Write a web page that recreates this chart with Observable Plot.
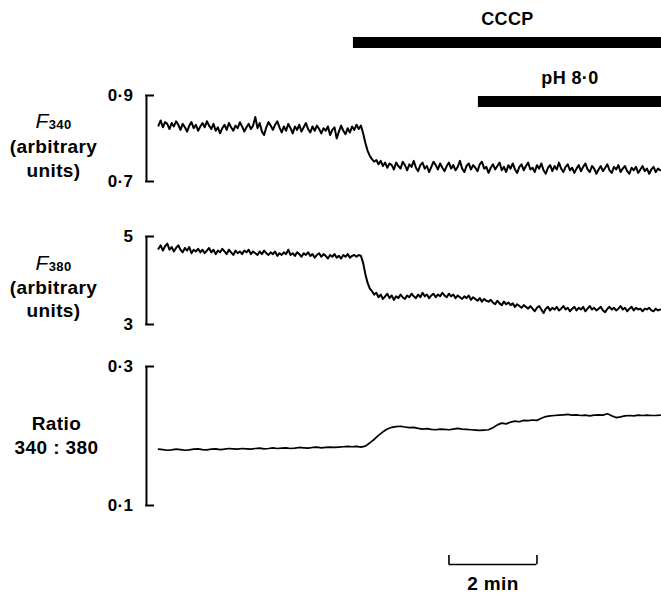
<!DOCTYPE html>
<html><head><meta charset="utf-8">
<script src="https://cdn.jsdelivr.net/npm/d3@7"></script>
<script src="https://cdn.jsdelivr.net/npm/@observablehq/plot@0.6"></script>
<style>
body{margin:0;background:#fff;}
#chart{position:relative;width:661px;height:593px;overflow:hidden;background:#fff;}
#chart svg{position:absolute;left:0;top:0;}
#chart text{letter-spacing:0.4px;}
</style></head><body><div id="chart"></div>
<script>
// sampling intervals of the traces (min)
const fluorInterval = 0.05;
const ratioInterval = 0.1;

const f340 = [
0.830,0.842,0.826,0.838,0.834,0.822,0.836,0.828,0.840,0.832,
0.820,0.834,0.826,0.816,0.830,0.838,0.824,0.832,0.818,0.828,
0.836,0.826,0.840,0.830,0.822,0.834,0.818,0.826,0.812,0.824,
0.832,0.820,0.836,0.826,0.818,0.830,0.824,0.838,0.828,0.816,
0.826,0.834,0.822,0.830,0.850,0.824,0.836,0.816,0.808,0.826,
0.838,0.830,0.820,0.832,0.840,0.826,0.814,0.828,0.818,0.834,
0.824,0.812,0.828,0.820,0.832,0.816,0.826,0.836,0.822,0.814,
0.828,0.818,0.830,0.822,0.812,0.824,0.818,0.828,0.808,0.820,
0.826,0.800,0.816,0.830,0.818,0.810,0.824,0.814,0.828,0.820,
0.832,0.822,0.830,0.812,0.790,0.772,0.760,0.752,0.746,0.750,
0.740,0.748,0.736,0.744,0.732,0.742,0.738,0.728,0.744,0.736,
0.730,0.746,0.738,0.726,0.740,0.734,0.748,0.732,0.724,0.738,
0.744,0.730,0.736,0.722,0.734,0.746,0.738,0.728,0.742,0.732,
0.724,0.736,0.744,0.730,0.738,0.726,0.734,0.748,0.730,0.722,
0.736,0.742,0.728,0.738,0.732,0.724,0.740,0.746,0.730,0.734,
0.720,0.732,0.740,0.728,0.736,0.744,0.726,0.734,0.722,0.738,
0.730,0.742,0.728,0.720,0.734,0.740,0.726,0.736,0.744,0.728,
0.732,0.722,0.738,0.730,0.742,0.726,0.718,0.732,0.738,0.724,
0.736,0.728,0.744,0.730,0.722,0.734,0.740,0.726,0.732,0.720,
0.730,0.738,0.724,0.734,0.742,0.728,0.722,0.736,0.730,0.718,
0.728,0.736,0.724,0.732,0.740,0.726,0.720,0.734,0.728,0.738,
0.722,0.730,0.736,0.724,0.718,0.732,0.726,0.734,0.720,0.728,
0.736,0.724,0.730,0.718,0.728,0.734,0.722,0.730,0.726];

const f380 = [
4.72,4.80,4.68,4.78,4.84,4.70,4.76,4.66,4.74,4.80,
4.70,4.64,4.74,4.68,4.76,4.62,4.70,4.66,4.72,4.64,
4.70,4.62,4.68,4.74,4.64,4.70,4.60,4.68,4.64,4.72,
4.66,4.60,4.70,4.64,4.58,4.68,4.62,4.66,4.60,4.68,
4.64,4.70,4.60,4.66,4.62,4.58,4.66,4.60,4.68,4.62,
4.58,4.64,4.60,4.66,4.56,4.62,4.58,4.64,4.60,4.70,
4.58,4.62,4.56,4.64,4.60,4.54,4.62,4.58,4.64,4.56,
4.60,4.52,4.58,4.62,4.54,4.60,4.56,4.50,4.58,4.54,
4.60,4.52,4.56,4.50,4.58,4.54,4.60,4.52,4.56,4.58,
4.54,4.58,4.56,4.40,4.15,3.95,3.82,3.76,3.68,3.72,
3.62,3.68,3.58,3.64,3.70,3.60,3.66,3.56,3.64,3.60,
3.68,3.62,3.58,3.66,3.62,3.70,3.64,3.60,3.68,3.62,
3.72,3.64,3.68,3.60,3.66,3.70,3.62,3.68,3.64,3.72,
3.66,3.62,3.70,3.64,3.68,3.60,3.66,3.62,3.58,3.64,
3.60,3.66,3.56,3.62,3.58,3.54,3.60,3.52,3.58,3.54,
3.52,3.56,3.50,3.46,3.54,3.48,3.44,3.52,3.46,3.50,
3.44,3.48,3.40,3.46,3.42,3.38,3.44,3.40,3.36,3.42,
3.36,3.30,3.38,3.42,3.34,3.26,3.36,3.40,3.32,3.38,
3.34,3.40,3.32,3.36,3.42,3.34,3.38,3.30,3.36,3.40,
3.32,3.38,3.34,3.40,3.30,3.36,3.42,3.34,3.38,3.32,
3.36,3.40,3.32,3.28,3.36,3.40,3.34,3.38,3.32,3.36,
3.42,3.34,3.38,3.30,3.36,3.40,3.32,3.38,3.34,3.36,
3.30,3.36,3.34,3.38,3.32,3.30,3.36,3.32,3.34];

const ratio = [
0.1810,0.1805,0.1795,0.1800,0.1810,0.1805,0.1795,0.1800,0.1810,0.1815,
0.1805,0.1800,0.1810,0.1815,0.1805,0.1810,0.1820,0.1815,0.1810,0.1820,
0.1815,0.1810,0.1820,0.1825,0.1815,0.1820,0.1830,0.1820,0.1825,0.1830,
0.1820,0.1825,0.1835,0.1830,0.1825,0.1835,0.1840,0.1830,0.1835,0.1840,
0.1835,0.1840,0.1845,0.1850,0.1845,0.1850,0.1840,0.1855,0.1900,0.1950,
0.2010,0.2060,0.2100,0.2125,0.2135,0.2140,0.2130,0.2120,0.2125,0.2110,
0.2100,0.2105,0.2095,0.2090,0.2100,0.2095,0.2090,0.2100,0.2110,0.2100,
0.2095,0.2090,0.2085,0.2080,0.2085,0.2090,0.2120,0.2160,0.2185,0.2175,
0.2200,0.2215,0.2205,0.2225,0.2220,0.2230,0.2225,0.2255,0.2280,0.2290,
0.2295,0.2300,0.2305,0.2310,0.2300,0.2305,0.2295,0.2300,0.2290,0.2300,
0.2305,0.2300,0.2320,0.2290,0.2265,0.2275,0.2290,0.2295,0.2290,0.2300,
0.2295,0.2300,0.2295,0.2295,0.2300];

const f340Ticks = [0.7, 0.9];
const f340TickLabels = ["0·7", "0·9"];
const f380Ticks = [3, 5];
const f380TickLabels = ["3", "5"];
const ratioTicks = [0.1, 0.3];
const ratioTickLabels = ["0·1", "0·3"];

const f340Title = ["F340", "(arbitrary", "units)"];
const f380Title = ["F380", "(arbitrary", "units)"];
const ratioTitle = ["Ratio", "340 : 380"];

// treatment bars (min), continuing past the right edge
const treatmentNames = ["CCCP", "pH 8·0"];
const treatmentStarts = [4.43, 7.27];
const recordEnd = 11.43;

// time scale bar (min)
const scaleBarStart = 6.6;
const scaleBarEnd = 8.6;
const scaleBarLabel = "2 min";

// ---------- layout ----------
const W = 661, H = 593;
const FONT = "'Liberation Sans', Arial, sans-serif";
const timeDomain = [-0.295, recordEnd];
const axisT = -0.273;           // time position of the vertical axis line
const tickLen = 8 / 44;          // tick length in minutes (44 px per min)
const container = document.getElementById("chart");

function basePlot(top, bottom, extra) {
  return Object.assign({
    width: W, height: H,
    marginLeft: 145, marginRight: 0,
    marginTop: top, marginBottom: H - bottom,
    x: {domain: timeDomain, axis: null},
    style: {background: "transparent", overflow: "visible", fontFamily: FONT, color: "black"}
  }, extra);
}

function panel(values, interval, ticks, tickLabels, title, top, bottom, sw, titleDy, titleDx) {
  const data = values.map((v, i) => ({t: i * interval, v}));
  const tickData = ticks.map((v, i) => ({v, label: tickLabels[i]}));
  const marks = [
    Plot.ruleX([axisT], {y1: ticks[0], y2: ticks[1], stroke: "black", strokeWidth: 2}),
    Plot.ruleY(tickData, {y: "v", x1: axisT - 0.02, x2: axisT + tickLen, stroke: "black", strokeWidth: 2}),
    Plot.text(tickData, {x: axisT, y: "v", text: "label", textAnchor: "end", dx: -13, fontSize: 17,
      fontWeight: "bold", fill: "black", lineAnchor: "middle"}),
    Plot.line(data, {x: "t", y: "v", stroke: "black", strokeWidth: sw, strokeLinejoin: "round"})
  ];
  title.forEach((line, i) => {
    marks.push(Plot.text([line], {frameAnchor: "left", text: d => d, dx: titleDx, dy: titleDy[i],
      textAnchor: "middle", lineAnchor: "bottom", fontSize: 19, fontWeight: "bold", fill: "black"}));
  });
  const svg = Plot.plot(basePlot(top, bottom, {y: {domain: ticks, axis: null}, marks}));
  // subscript styling for F340 / F380
  d3.select(svg).selectAll("text").filter(function () { return /^F\d{3}$/.test(this.textContent); })
    .each(function () {
      const s = this.textContent;
      const t = d3.select(this);
      t.text(null);
      t.append("tspan").attr("font-style", "italic").attr("font-weight", "normal").attr("font-size", 21).text("F");
      t.append("tspan").attr("font-size", 13).attr("dy", 1).text(s.slice(1));
    });
  return svg;
}

container.appendChild(panel(f340, fluorInterval, f340Ticks, f340TickLabels, f340Title, 95, 181, 2, [-11, 14, 38], -92));
container.appendChild(panel(f380, fluorInterval, f380Ticks, f380TickLabels, f380Title, 236, 324, 2, [-11, 13, 36], -92));
container.appendChild(panel(ratio, ratioInterval, ratioTicks, ratioTickLabels, ratioTitle, 366, 505, 1.7, [-6, 18], -89));

// treatment bars
const treatments = treatmentNames.map((name, i) => ({name, start: treatmentStarts[i], end: recordEnd}));
container.appendChild(Plot.plot(basePlot(42, 101.5, {
  y: {type: "point", domain: treatmentNames, padding: 0, axis: null},
  marks: [
    Plot.ruleY(treatments, {y: "name", x1: "start", x2: "end", stroke: "black", strokeWidth: 11}),
    Plot.text(treatments, {x: d => (d.start + d.end) / 2, y: "name", text: "name", dy: -18, lineAnchor: "bottom",
      fontSize: 18, fontWeight: "bold", fill: "black"})
  ]
})));

// time scale bar
container.appendChild(Plot.plot(basePlot(555, 564, {
  y: {domain: [1, 0], reverse: true, axis: null},
  marks: [
    Plot.ruleY([0], {x1: scaleBarStart, x2: scaleBarEnd, stroke: "black", strokeWidth: 1.6}),
    Plot.ruleX([scaleBarStart, scaleBarEnd], {y1: 0, y2: 1, stroke: "black", strokeWidth: 1.6}),
    Plot.text([scaleBarLabel], {x: (scaleBarStart + scaleBarEnd) / 2, y: 0, text: d => d, dy: 25,
      lineAnchor: "bottom", fontSize: 19, fontWeight: "bold", fill: "black"})
  ]
})));
</script></body></html>
